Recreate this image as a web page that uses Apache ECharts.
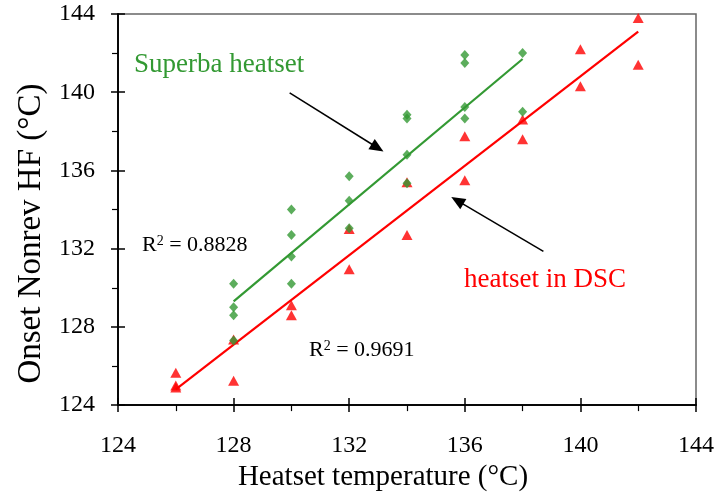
<!DOCTYPE html>
<html>
<head>
<meta charset="utf-8">
<script src="https://cdn.jsdelivr.net/npm/echarts@6/dist/echarts.min.js"></script>
<style>html,body{margin:0;padding:0;background:#fff}#c{width:717px;height:497px}</style>
</head>
<body>
<div id="c"></div>
<script>
// ---- data ----
const xTicks = [124, 128, 132, 136, 140, 144];
const yTicks = [124, 128, 132, 136, 140, 144];

// Superba heatset (green diamonds): [heatset temp, onset]
const superbaX = [128,128,128,128, 130,130,130,130, 132,132,132, 134,134,134,134, 136,136,136,136, 138,138];
const superbaY = [130.2,129.0,128.6,127.3, 134.0,132.7,131.6,130.2, 135.7,134.45,133.05, 138.85,138.65,136.8,135.35, 141.9,141.5,139.25,138.65, 142.0,139.0];

// heatset in DSC (red triangles)
const dscX = [126,126,126, 128,128, 130,130, 132,132, 134,134, 136,136, 138,138, 140,140, 142,142];
const dscY = [125.65,125.0,124.9, 127.35,125.25, 129.1,128.6, 133.0,130.95, 135.4,132.7, 137.75,135.5, 138.6,137.6, 142.2,140.3, 143.8,141.4];

// fitted trend lines (end points as drawn)
const superbaFitX = [128, 138];
const superbaFitY = [129.3, 141.7];
const dscFitX = [126, 142];
const dscFitY = [124.8, 143.1];

// annotation arrows (start -> tip), in data units
const arrow1 = [[129.94, 139.97], [132.98, 137.16]];
const arrow2 = [[138.72, 131.86], [135.74, 134.46]];

const r2Superba = '0.8828';
const r2Dsc = '0.9691';

// ---- chart ----
const zip = (xs, ys) => xs.map((x, i) => [x, ys[i]]);
const GREEN = '#339933', RED = '#ff0000';
const FONT = '"Liberation Serif", "Times New Roman", serif';

const chart = echarts.init(document.getElementById('c'), null, {renderer: 'canvas'});

const axisCommon = {
  type: 'value', min: 124, max: 144, interval: 4,
  axisLine: {show: true, onZero: false, lineStyle: {color: '#000', width: 1.5}},
  splitLine: {show: false}
};

chart.setOption({
  animation: false,
  backgroundColor: '#fff',
  grid: {left: 118, right: 20, top: 14, bottom: 91, show: true, borderColor: '#666', borderWidth: 1.5},
  xAxis: [
    Object.assign({}, axisCommon, {
      position: 'bottom',
      name: 'Heatset temperature (°C)', nameLocation: 'middle', nameGap: 57,
      nameTextStyle: {fontFamily: FONT, fontSize: 29, color: '#000', padding: [0, 48, 0, 0]},
      axisTick: {show: true, inside: false, length: 7, lineStyle: {color: '#000', width: 1.5}},
      minorTick: {show: true, splitNumber: 2, length: 6, lineStyle: {color: '#000', width: 1.2}},
      axisLabel: {fontFamily: FONT, fontSize: 24, color: '#000', margin: 29,
        formatter: v => xTicks.includes(v) ? String(v) : ''}
    }),
    Object.assign({}, axisCommon, {
      position: 'bottom',
      axisTick: {show: true, inside: true, length: 7, lineStyle: {color: '#000', width: 1.5}},
      axisLabel: {show: false}
    })
  ],
  yAxis: [
    Object.assign({}, axisCommon, {
      position: 'left',
      name: 'Onset Nonrev HF (°C)', nameLocation: 'middle', nameGap: 70,
      nameTextStyle: {fontFamily: FONT, fontSize: 33, color: '#000', padding: [0, 48, 0, 0]},
      axisTick: {show: true, inside: false, length: 7, lineStyle: {color: '#000', width: 1.5}},
      minorTick: {show: true, splitNumber: 2, length: 6, lineStyle: {color: '#000', width: 1.2}},
      axisLabel: {fontFamily: FONT, fontSize: 24, color: '#000', margin: 23,
        formatter: v => yTicks.includes(v) ? String(v) : ''}
    }),
    Object.assign({}, axisCommon, {
      position: 'left',
      axisTick: {show: true, inside: true, length: 7, lineStyle: {color: '#000', width: 1.5}},
      axisLabel: {show: false}
    })
  ],
  series: [
    {
      type: 'line', data: zip(dscFitX, dscFitY), showSymbol: false, symbol: 'none',
      lineStyle: {color: RED, width: 2.2}, z: 3
    },
    {
      type: 'line', data: zip(superbaFitX, superbaFitY), showSymbol: false, symbol: 'none',
      lineStyle: {color: GREEN, width: 2.2}, z: 3
    },
    {
      type: 'scatter', data: zip(dscX, dscY), symbol: 'triangle', symbolSize: [11, 10],
      itemStyle: {color: RED}, z: 4
    },
    {
      type: 'scatter', data: zip(superbaX, superbaY), symbol: 'diamond', symbolSize: [9, 10],
      itemStyle: {color: GREEN}, z: 5,
      markLine: {
        silent: true, symbol: ['none', 'triangle'], symbolSize: [12, 14],
        lineStyle: {color: '#000', width: 1.5, type: 'solid'},
        label: {show: false},
        data: [
          [{coord: arrow1[0]}, {coord: arrow1[1]}],
          [{coord: arrow2[0]}, {coord: arrow2[1]}]
        ]
      }
    }
  ],
  graphic: [
    {type: 'text', left: 134, top: 51, z: 10,
      style: {text: 'Superba heatset', fill: GREEN, font: '27px ' + FONT}},
    {type: 'text', left: 464, top: 266, z: 10,
      style: {text: 'heatset in DSC', fill: RED, font: '27px ' + FONT}},
    {type: 'text', left: 142, top: 234, z: 10,
      style: {text: '{r|R}{s|2}{r| = ' + r2Superba + '}', fill: '#000',
        rich: {r: {fontFamily: FONT, fontSize: 22, fill: '#000', verticalAlign: 'bottom'},
               s: {fontFamily: FONT, fontSize: 14, fill: '#000', verticalAlign: 'top'}}}},
    {type: 'text', left: 309, top: 339, z: 10,
      style: {text: '{r|R}{s|2}{r| = ' + r2Dsc + '}', fill: '#000',
        rich: {r: {fontFamily: FONT, fontSize: 22, fill: '#000', verticalAlign: 'bottom'},
               s: {fontFamily: FONT, fontSize: 14, fill: '#000', verticalAlign: 'top'}}}}
  ]
});
</script>
</body>
</html>
